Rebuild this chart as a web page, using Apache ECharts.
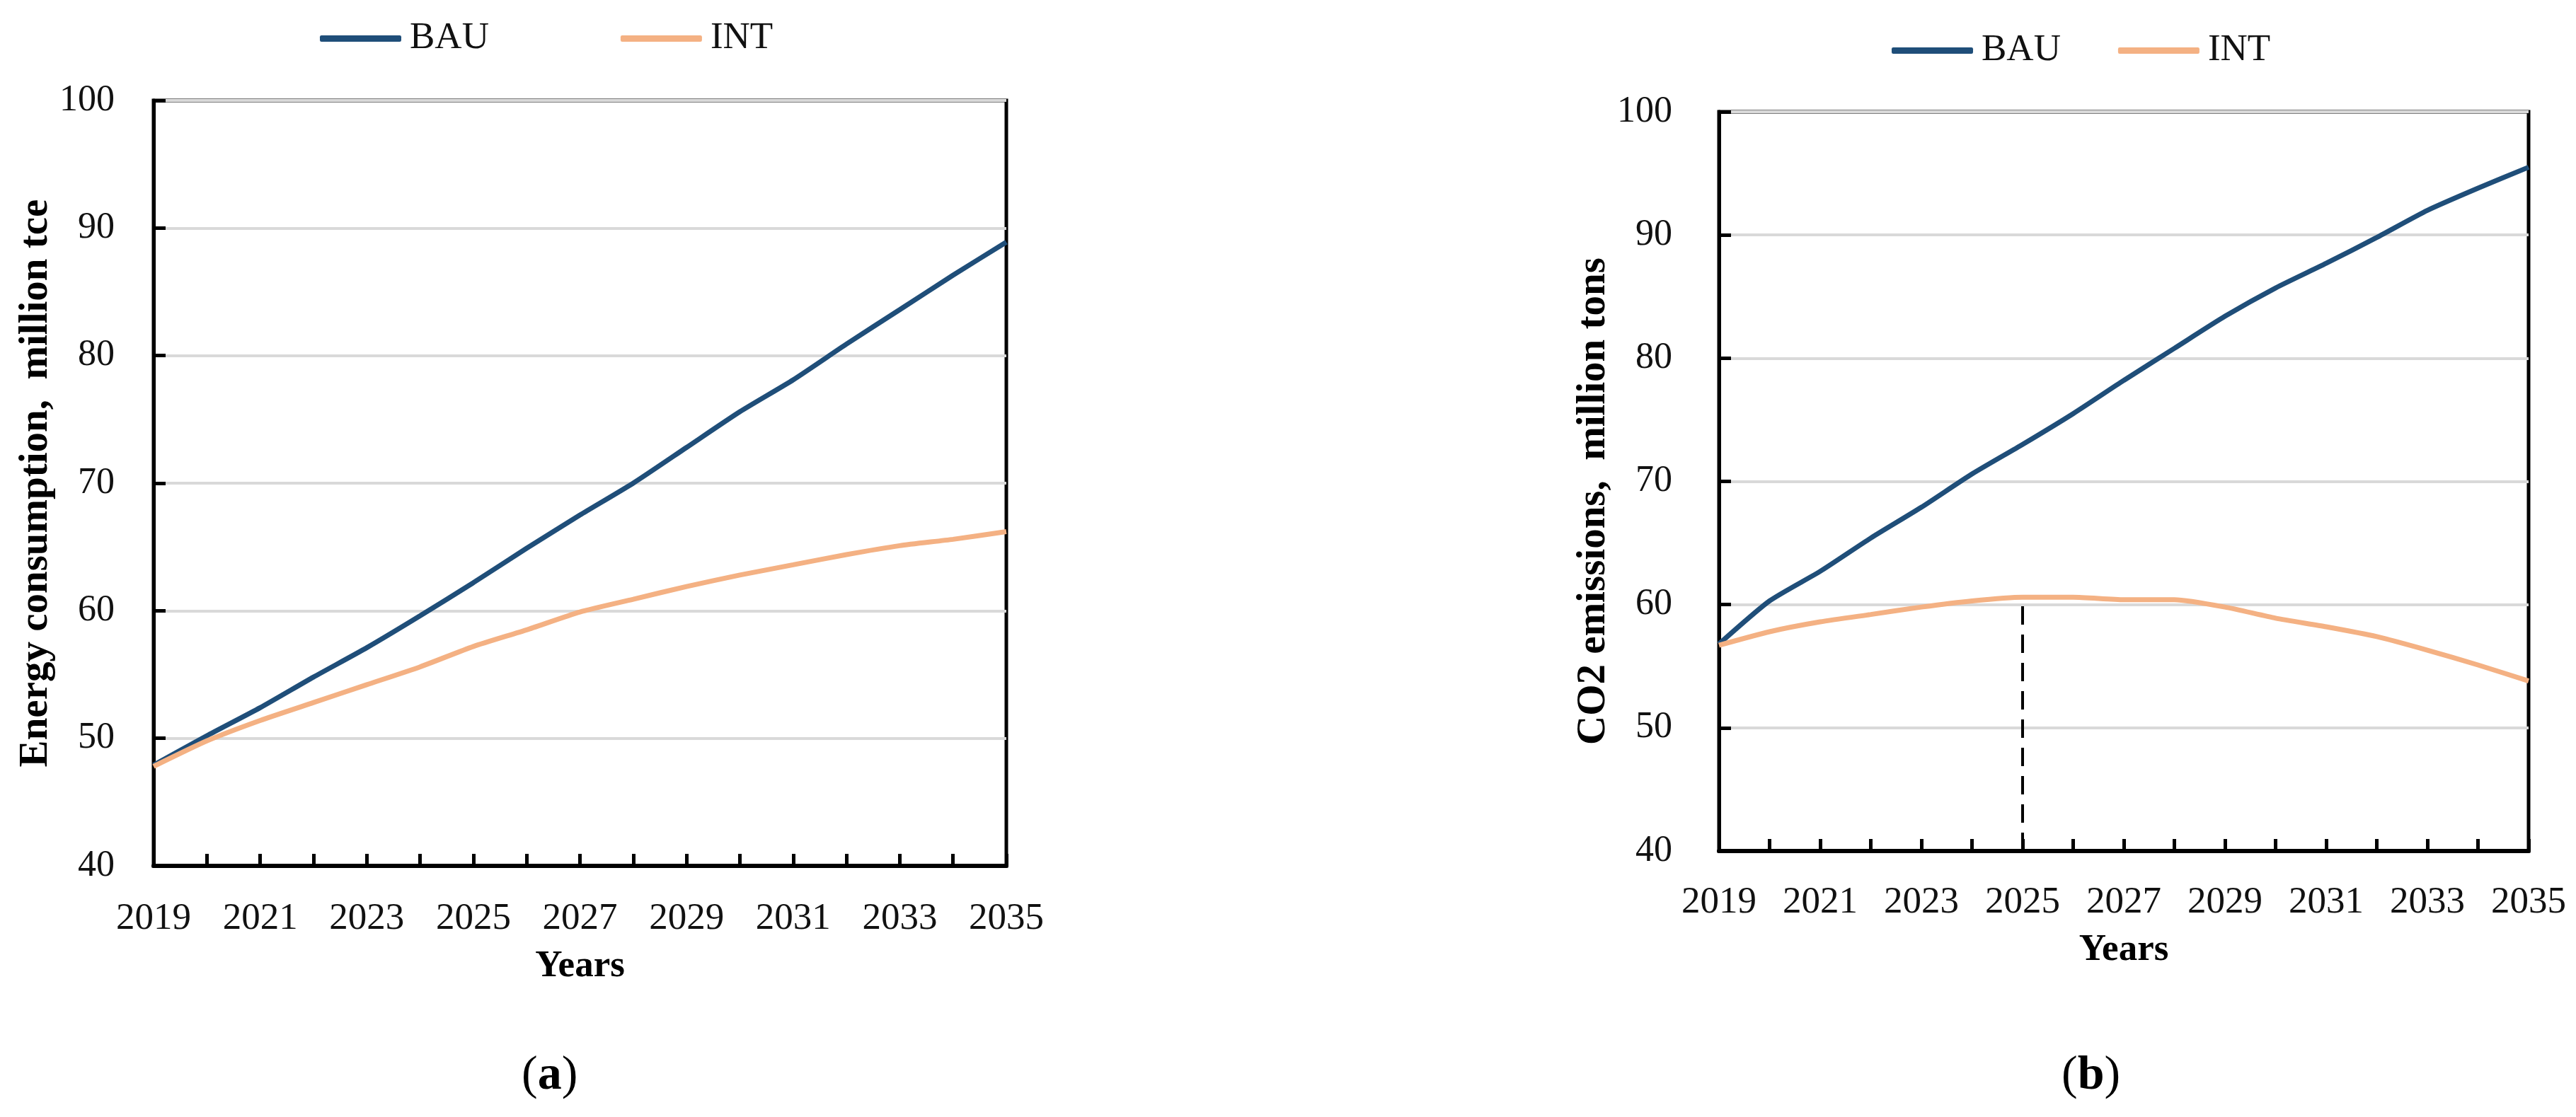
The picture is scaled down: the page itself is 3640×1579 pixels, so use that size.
<!DOCTYPE html>
<html>
<head>
<meta charset="utf-8">
<script src="https://cdn.jsdelivr.net/npm/echarts@6/dist/echarts.min.js"></script>
<style>
html,body{margin:0;padding:0;background:#fff;}
#chart{width:3640px;height:1579px;}
</style>
</head>
<body>
<div id="chart"></div>
<script>
const years = ['2019','2020','2021','2022','2023','2024','2025','2026','2027','2028','2029','2030','2031','2032','2033','2034','2035'];
const energyBAU = [47.9,50.2,52.4,54.8,57.1,59.6,62.2,64.9,67.5,70.0,72.8,75.6,78.1,80.9,83.6,86.3,88.9];
const energyINT = [47.8,49.8,51.4,52.8,54.2,55.6,57.2,58.5,59.9,60.9,61.9,62.8,63.6,64.4,65.1,65.6,66.2];
const co2BAU = [56.8,60.3,62.7,65.4,67.9,70.6,73.0,75.5,78.2,80.8,83.4,85.7,87.7,89.8,92.0,93.8,95.5];
const co2INT = [56.7,57.8,58.6,59.2,59.8,60.3,60.6,60.6,60.4,60.4,59.8,58.9,58.2,57.4,56.3,55.1,53.8];
const peakIndex = 6;
const seriesNames = ['BAU','INT'];
const leftTitle = 'Energy consumption,  million tce';
const rightTitle = 'CO2 emissions,  million tons';
const xTitle = 'Years';

const BLUE = '#1f4e79';
const ORANGE = '#f4b183';
const FONT = 'Liberation Serif';

function xAxis(idx, gap, margin) {
  return {
    type: 'category', gridIndex: idx, data: years, boundaryGap: false,
    name: xTitle, nameLocation: 'middle', nameGap: gap,
    nameTextStyle: {fontFamily: FONT, fontWeight: 'bold', fontSize: 53, color: '#000'},
    axisLine: {onZero: false, lineStyle: {color: '#000', width: 6}},
    axisTick: {show: true, inside: true, interval: 0, length: 17, lineStyle: {color: '#000', width: 5}},
    axisLabel: {interval: 1, margin: margin, fontFamily: FONT, fontSize: 53, color: '#111'},
    splitLine: {show: false}
  };
}
function yAxis(idx, name, gap, margin, pad) {
  return {
    type: 'value', gridIndex: idx, min: 40, max: 100, interval: 10,
    name: name, nameLocation: 'middle', nameGap: gap,
    nameTextStyle: {fontFamily: FONT, fontWeight: 'bold', fontSize: 57, color: '#000', padding: pad},
    axisLine: {show: true, lineStyle: {color: '#000', width: 5}},
    axisTick: {show: true, inside: true, length: 17, lineStyle: {color: '#000', width: 5}},
    axisLabel: {margin: margin, fontFamily: FONT, fontSize: 52, color: '#111'},
    splitLine: {show: true, lineStyle: {color: '#d9d9d9', width: 4}}
  };
}
function line(name, data, xi, color, extra) {
  return Object.assign({
    name: name, type: 'line', data: data, xAxisIndex: xi, yAxisIndex: xi,
    symbol: 'none', showSymbol: false, smooth: 0.2, z: 3,
    lineStyle: {color: color, width: 7}, itemStyle: {color: color}
  }, extra || {});
}
function legend(left, top, gap) {
  return {
    data: seriesNames, left: left, top: top, padding: 0, itemGap: gap,
    icon: 'roundRect', itemWidth: 115, itemHeight: 9,
    textStyle: {fontFamily: FONT, fontSize: 53, color: '#111', padding: [0, 0, 0, 7]}
  };
}
function caption(letter, left) {
  return {
    text: '(' + '{b|' + letter + '})', left: left, top: 1482,
    textStyle: {fontFamily: FONT, fontSize: 68, fontWeight: 'normal', color: '#000',
      rich: {b: {fontFamily: FONT, fontSize: 68, fontWeight: 'bold', color: '#000'}}}
  };
}

const chart = echarts.init(document.getElementById('chart'));
chart.setOption({
  animation: false,
  backgroundColor: '#fff',
  legend: [legend(452, 28, 186), legend(2673, 45, 81)],
  title: [caption('a', 732), caption('b', 2908)],
  grid: [
    {left: 217, top: 142, width: 1205, height: 1082, show: true, borderColor: '#000', borderWidth: 5, backgroundColor: 'transparent'},
    {left: 2429, top: 158, width: 1144, height: 1045, show: true, borderColor: '#000', borderWidth: 5, backgroundColor: 'transparent'}
  ],
  xAxis: [xAxis(0, 116, 49), xAxis(1, 114, 47)],
  yAxis: [yAxis(0, leftTitle, 137, 55, [0, 0, 0, 0]), yAxis(1, rightTitle, 140, 66, [0, 56, 0, 0])],
  series: [
    line(seriesNames[0], energyBAU, 0, BLUE),
    line(seriesNames[1], energyINT, 0, ORANGE),
    line(seriesNames[0], co2BAU, 1, BLUE),
    line(seriesNames[1], co2INT, 1, ORANGE, {
      markLine: {
        silent: true, symbol: 'none', label: {show: false},
        lineStyle: {color: '#000', width: 4, type: [26, 14]},
        data: [[{coord: [years[peakIndex], 40]}, {coord: [years[peakIndex], co2INT[peakIndex]]}]]
      }
    })
  ]
});
</script>
</body>
</html>
